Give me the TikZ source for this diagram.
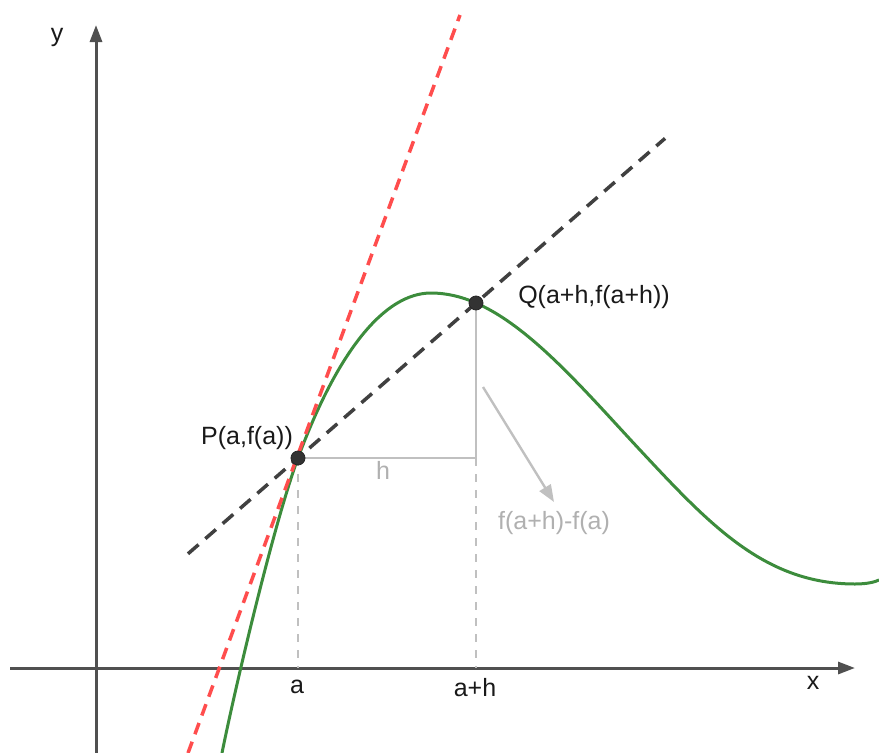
\documentclass[tikz,border=0pt]{standalone}
\usepackage{fontspec}
\setmainfont{Liberation Sans}
\usetikzlibrary{arrows.meta,calc}
\definecolor{axisc}{RGB}{80,80,80}
\definecolor{curvec}{RGB}{60,140,60}
\definecolor{tanc}{RGB}{255,77,77}
\definecolor{secc}{RGB}{64,64,64}
\definecolor{helpc}{RGB}{192,192,192}
\definecolor{labc}{RGB}{176,176,176}
\definecolor{ptc}{RGB}{51,51,51}
\definecolor{txtc}{RGB}{25,25,25}
\begin{document}
\begin{tikzpicture}[x=1pt,y=-1pt,
  font=\fontsize{25}{29}\selectfont,
  axisline/.style={draw=axisc,line width=3pt,-{Triangle[length=17pt,width=12pt]}},
  curveline/.style={draw=curvec,line width=3pt},
  tangentline/.style={draw=tanc,line width=3.5pt,dash pattern=on 12pt off 8pt},
  secantline/.style={draw=secc,line width=3.5pt,dash pattern=on 14pt off 9pt},
  helpline/.style={draw=helpc,line width=2.2pt},
  helpdash/.style={draw=helpc,line width=2.2pt,dash pattern=on 8pt off 8pt},
  grayarrow/.style={draw=helpc,line width=2.4pt,-{Triangle[length=17pt,width=13pt]}},
  ptnode/.style={circle,fill=ptc,draw=black!85,line width=0.8pt,minimum size=14pt,inner sep=0pt},
  lab/.style={text=txtc,inner sep=0pt},
  glab/.style={text=labc,inner sep=0pt}]
\useasboundingbox (0,0) rectangle (879,753);
% key coordinates
\coordinate (P) at (298,458);
\coordinate (Q) at (476,303);
\coordinate (C) at (476,458);
\coordinate (A) at (298,668);
\coordinate (AH) at (476,668);
\coordinate (xs) at (10,668);
\coordinate (xe) at (855,668);
\coordinate (ys) at (96,753);
\coordinate (ye) at (96,25);
\coordinate (T1) at (188,753);
\coordinate (T2) at (460,15);
\coordinate (S1) at ($(P)!-0.618!(Q)$);
\coordinate (S2) at ($(P)!2.062!(Q)$);
\coordinate (G1) at (483,387);
\coordinate (G2) at (554,502);
% axes
\draw[axisline] (xs) -- (xe);
\draw[axisline] (ys) -- (ye);
\node[lab] (xl) at (813,683) {x};
\node[lab] (yl) at (57,37) {y};
% helper lines
\draw[helpdash] (P) -- (A);
\draw[helpdash] (C) -- (AH);
\draw[helpline] (P) -- (C) -- (Q);
\draw[grayarrow] (G1) -- (G2);
% curve
\draw[curveline] (222,753) .. controls (234,693) and (273,526) .. (P)
  .. controls (338,350) and (385,293) .. (431,293)
  .. controls (446,293) and (461,296.4) .. (Q)
  .. controls (531,327) and (585,391) .. (640,450)
  .. controls (710,525) and (765,584) .. (855,584)
  .. controls (867,584) and (875,582) .. (879,580);
% tangent and secant
\draw[tangentline] (T1) -- (T2);
\draw[secantline] (S1) -- (S2);
% points
\node[ptnode] (Pn) at (P) {};
\node[ptnode] (Qn) at (Q) {};
% labels
\node[lab] (Pl) at (247,438) {P(a,f(a))};
\node[lab] (Ql) at (594,297) {Q(a+h,f(a+h))};
\node[lab] (al) at (297,687) {a};
\node[lab] (ahl) at (475,688) {a+h};
\node[glab] (hl) at (383,470) {h};
\node[glab] (dl) at (554,523) {f(a+h)-f(a)};
\end{tikzpicture}
\end{document}
